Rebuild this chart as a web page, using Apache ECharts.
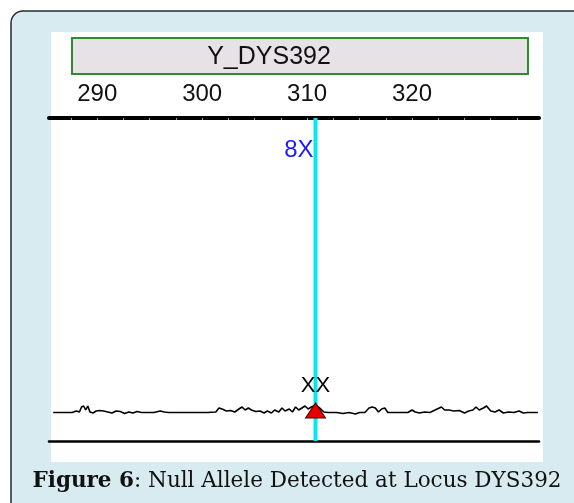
<!DOCTYPE html>
<html><head><meta charset="utf-8">
<script src="https://cdn.jsdelivr.net/npm/echarts@6/dist/echarts.min.js"></script>
<style>html,body{margin:0;padding:0;background:#fff}#c{width:574px;height:503px}</style>
</head><body><div id="c"></div>
<script>
// ---- data ----
const locusName = 'Y_DYS392';
const sizeLabels = [290, 300, 310, 320];
const sizeTicks = [287.5, 290, 292.5, 295, 297.5, 300, 302.5, 305, 307.5, 310, 312.5, 315, 317.5, 320, 322.5, 325, 327.5, 330];
const alleleSize = 310.8;
const alleleLabel = '8X';
const calledLabel = 'XX';
const calledHeight = 30.5;
const noiseBp = [285.8, 287.6, 288.0, 288.3, 288.5, 288.7, 288.9, 289.1, 289.3, 289.6, 289.9, 290.2, 290.6, 291.0, 291.4, 291.8, 292.2, 292.6, 293.0, 293.4, 293.8, 294.2, 294.6, 295.4, 296.0, 296.4, 296.8, 298.5, 300.5, 301.3, 301.6, 301.9, 302.3, 302.7, 303.1, 303.5, 303.8, 304.1, 304.4, 304.7, 305.1, 305.5, 305.9, 306.2, 306.6, 306.9, 307.3, 307.6, 307.9, 308.3, 308.6, 308.9, 309.2, 309.5, 309.8, 310.1, 310.4, 310.8, 311.2, 311.6, 312.0, 312.8, 313.4, 314.0, 314.6, 315.0, 315.5, 315.9, 316.2, 316.5, 316.8, 317.1, 317.4, 317.7, 318.3, 319.0, 319.6, 320.0, 320.3, 320.7, 321.2, 321.7, 322.4, 322.8, 323.1, 323.5, 324.0, 324.5, 325.0, 325.4, 325.8, 326.1, 326.4, 326.8, 327.1, 327.5, 327.9, 328.3, 328.7, 329.2, 329.7, 330.2, 330.6, 331.0, 332.0];
const noiseRfu = [28.5, 28.5, 30, 29, 34, 35, 31, 35, 29, 28, 30, 30.5, 30, 29, 28, 30, 29.5, 27.5, 29, 28, 29.5, 28.5, 28.5, 28.5, 30, 29, 28.5, 28.5, 28.5, 29, 33, 32, 30, 30.5, 29, 32, 34, 31, 33, 31, 29.5, 30, 28, 30, 28, 31, 29, 33, 30, 32, 29, 34, 31, 33, 35, 32, 34, 36, 33, 29, 28.5, 28.5, 27.5, 28.5, 27, 28.5, 28.5, 33, 34, 33, 29, 32, 33, 28.5, 28.5, 28.5, 28.5, 31, 29, 28, 29, 28.5, 32, 34, 31, 31, 30, 30.5, 28, 30, 31, 34, 31, 33, 35, 30, 29, 31, 28, 29, 28.5, 30, 28, 28.5, 28.5];
const captionBold = 'Figure 6';
const captionRest = ': Null Allele Detected at Locus DYS392';

// ---- chart ----
const chart = echarts.init(document.getElementById('c'), null, {renderer: 'canvas'});
const xCommon = {type: 'value', min: 285.4, max: 332.1, splitLine: {show: false}};
chart.setOption({
  backgroundColor: '#ffffff',
  animation: false,
  graphic: [
    {type: 'rect', z: -10, shape: {x: 11, y: 11, width: 620, height: 600, r: 12},
     style: {fill: '#d7ebf1', stroke: '#2a2a2a', lineWidth: 1.5}},
    {type: 'rect', z: -9, shape: {x: 51, y: 32, width: 492, height: 430},
     style: {fill: '#ffffff'}},
    {type: 'rect', z: -8, shape: {x: 72, y: 38, width: 456, height: 36},
     style: {fill: '#e7e2e6', stroke: '#2e8b2e', lineWidth: 2}},
    {type: 'text', z: 10, x: 269, y: 57,
     style: {text: locusName, font: '25px "Liberation Sans", Arial, sans-serif', fill: '#111', align: 'center', verticalAlign: 'middle'}},
    {type: 'text', z: 10, x: 297, y: 481,
     style: {text: '{b|' + captionBold + '}{r|' + captionRest + '}', align: 'center', verticalAlign: 'middle',
       rich: {b: {font: 'bold 21.5px "DejaVu Serif", serif', fill: '#111'},
              r: {font: '21.5px "DejaVu Serif", serif', fill: '#111'}}}}
  ],
  grid: {left: 49, right: 35, top: 118, bottom: 62, containLabel: false},
  xAxis: [
    Object.assign({}, xCommon, {
      position: 'top',
      axisLine: {show: true, onZero: false, lineStyle: {color: '#000', width: 4}},
      axisTick: {show: true, inside: true, length: 2, customValues: sizeTicks, lineStyle: {color: '#9a9a9a', width: 1}},
      axisLabel: {show: true, customValues: sizeLabels, margin: 12, color: '#111',
        fontSize: 24, fontFamily: '"Liberation Sans", Arial, sans-serif'}
    }),
    Object.assign({}, xCommon, {
      position: 'bottom',
      axisLine: {show: true, onZero: false, lineStyle: {color: '#000', width: 2.5}},
      axisTick: {show: false}, axisLabel: {show: false}
    })
  ],
  yAxis: {type: 'value', min: 0, max: 323, show: false},
  series: [
    {type: 'line', name: 'allele', z: 2, symbol: 'none', silent: true,
     data: [[alleleSize, 0], [alleleSize, 323]],
     lineStyle: {color: '#00e8f0', width: 4}},
    {type: 'line', name: 'trace', z: 3, symbol: 'none', silent: true,
     data: noiseBp.map((b, i) => [b, noiseRfu[i]]),
     lineStyle: {color: '#000', width: 1.6}},
    {type: 'scatter', name: 'call', z: 5, symbol: 'triangle', symbolSize: [20, 15], silent: true,
     data: [[alleleSize, calledHeight]],
     itemStyle: {color: '#e60000', borderColor: '#500', borderWidth: 1, opacity: 1},
     emphasis: {disabled: true},
     label: {show: true, formatter: calledLabel, position: 'top', distance: 6, color: '#000',
       fontSize: 22, fontFamily: '"Liberation Sans", Arial, sans-serif'}},
    {type: 'scatter', name: 'label', z: 6, symbolSize: 0, silent: true,
     data: [[alleleSize, 291]],
     itemStyle: {opacity: 1},
     emphasis: {disabled: true},
     label: {show: true, formatter: alleleLabel, position: 'left', distance: 2, color: '#1a1aff',
       fontSize: 24, fontFamily: '"Liberation Sans", Arial, sans-serif'}}
  ]
});
</script></body></html>
